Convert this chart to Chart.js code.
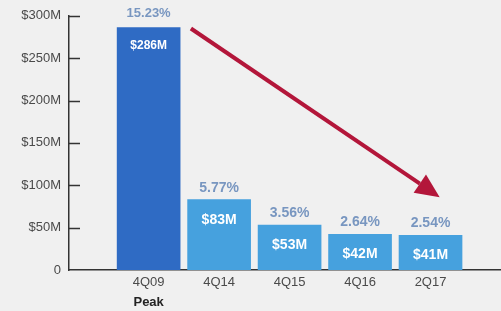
<!DOCTYPE html>
<html>
<head>
<meta charset="utf-8">
<script src="https://cdn.jsdelivr.net/npm/chart.js@4/dist/chart.umd.min.js"></script>
<style>
    html, body { margin: 0; padding: 0; background: #f0f0f0; }
    #wrap { width: 501px; height: 311px; position: relative; }
</style>
</head>
<body>
<div id="wrap"><canvas id="costChart"></canvas></div>
<script>
// Data
const categories = ['4Q09', '4Q14', '4Q15', '4Q16', '2Q17'];
const values = [286, 83, 53, 42, 41];            // $M
const percents = ['15.23%', '5.77%', '3.56%', '2.64%', '2.54%'];
const yTicks = [0, 50, 100, 150, 200, 250, 300];
const subLabel = 'Peak';

// arrow from peak bar down to latest bar (data coords: index, $M)
const arrowFrom = [0.6, 285];
const arrowTo = [4.13, 86];

const barColors = ['#2f6bc4', '#46a1de', '#46a1de', '#46a1de', '#46a1de'];
const FONT = '"Liberation Sans", Arial, sans-serif';

const overlayPlugin = {
    id: 'overlay',
    afterDatasetsDraw(chart) {
        const ctx = chart.ctx;
        const x = chart.scales.x;
        const y = chart.scales.y;
        const area = chart.chartArea;

        ctx.save();
        // inward tick marks on y axis
        ctx.strokeStyle = '#333';
        ctx.lineWidth = 1.5;
        y.ticks.forEach(t => {
            if (t.value === 0) return;
            const py = Math.round(y.getPixelForValue(t.value)) + 0.5;
            ctx.beginPath();
            ctx.moveTo(area.left, py);
            ctx.lineTo(area.left + 11, py);
            ctx.stroke();
        });

        // value + percent labels (peak bar uses smaller type)
        ctx.textAlign = 'center';
        ctx.textBaseline = 'middle';
        values.forEach((v, i) => {
            const px = x.getPixelForValue(i);
            const top = y.getPixelForValue(v);
            const big = i > 0;
            ctx.font = 'bold ' + (big ? 14 : 12) + 'px ' + FONT;
            ctx.fillStyle = '#ffffff';
            ctx.fillText('$' + v + 'M', px, top + (big ? 20 : 18));
            ctx.font = 'bold ' + (big ? 14 : 13) + 'px ' + FONT;
            ctx.fillStyle = '#7896c0';
            ctx.fillText(percents[i], px, top - (big ? 12 : 14));
        });

        // "Peak" under first label
        ctx.font = 'bold 13px ' + FONT;
        ctx.fillStyle = '#222';
        ctx.fillText(subLabel, x.getPixelForValue(0), 302);

        // arrow
        const x1 = x.getPixelForValue(arrowFrom[0]), y1 = y.getPixelForValue(arrowFrom[1]);
        const x2 = x.getPixelForValue(arrowTo[0]), y2 = y.getPixelForValue(arrowTo[1]);
        const ang = Math.atan2(y2 - y1, x2 - x1);
        const headLen = 24, headW = 11;
        const bx = x2 - headLen * Math.cos(ang), by = y2 - headLen * Math.sin(ang);
        ctx.strokeStyle = '#b3163a';
        ctx.fillStyle = '#b3163a';
        ctx.lineWidth = 4;
        ctx.beginPath();
        ctx.moveTo(x1, y1);
        ctx.lineTo(bx, by);
        ctx.stroke();
        ctx.beginPath();
        ctx.moveTo(x2, y2);
        ctx.lineTo(bx + headW * Math.sin(ang), by - headW * Math.cos(ang));
        ctx.lineTo(bx - headW * Math.sin(ang), by + headW * Math.cos(ang));
        ctx.closePath();
        ctx.fill();
        ctx.restore();
    }
};

new Chart(document.getElementById('costChart'), {
    type: 'bar',
    data: {
        datasets: [{
            data: values.map((v, i) => ({ x: i, y: v })),
            backgroundColor: barColors,
            borderWidth: 0,
            barThickness: 63
        }]
    },
    options: {
        responsive: true,
        maintainAspectRatio: false,
        animation: false,
        layout: { padding: { top: 15, right: 0, left: 0, bottom: 0 } },
        plugins: {
            legend: { display: false },
            tooltip: { enabled: false }
        },
        scales: {
            x: {
                type: 'linear',
                offset: false,
                min: -1.13,
                max: 5.0,
                afterBuildTicks: scale => {
                    scale.ticks = categories.map((c, i) => ({ value: i }));
                },
                afterFit: scale => { scale.height = 41; },
                grid: { display: false, drawTicks: false, offset: false },
                border: { display: true, color: '#333', width: 1.5 },
                ticks: {
                    autoSkip: false,
                    maxRotation: 0,
                    padding: 5,
                    color: '#4a4a4a',
                    font: { family: FONT, size: 13 },
                    callback: v => categories[v]
                }
            },
            y: {
                min: 0,
                max: 300,
                afterBuildTicks: scale => {
                    scale.ticks = yTicks.map(v => ({ value: v }));
                },
                afterFit: scale => { scale.width = 69; },
                grid: { display: false, drawTicks: false },
                border: { display: true, color: '#333', width: 1.5 },
                ticks: {
                    padding: 8,
                    color: '#4a4a4a',
                    font: { family: FONT, size: 13 },
                    callback: v => v === 0 ? '0' : '$' + v + 'M'
                }
            }
        }
    },
    plugins: [overlayPlugin]
});
</script>
</body>
</html>
